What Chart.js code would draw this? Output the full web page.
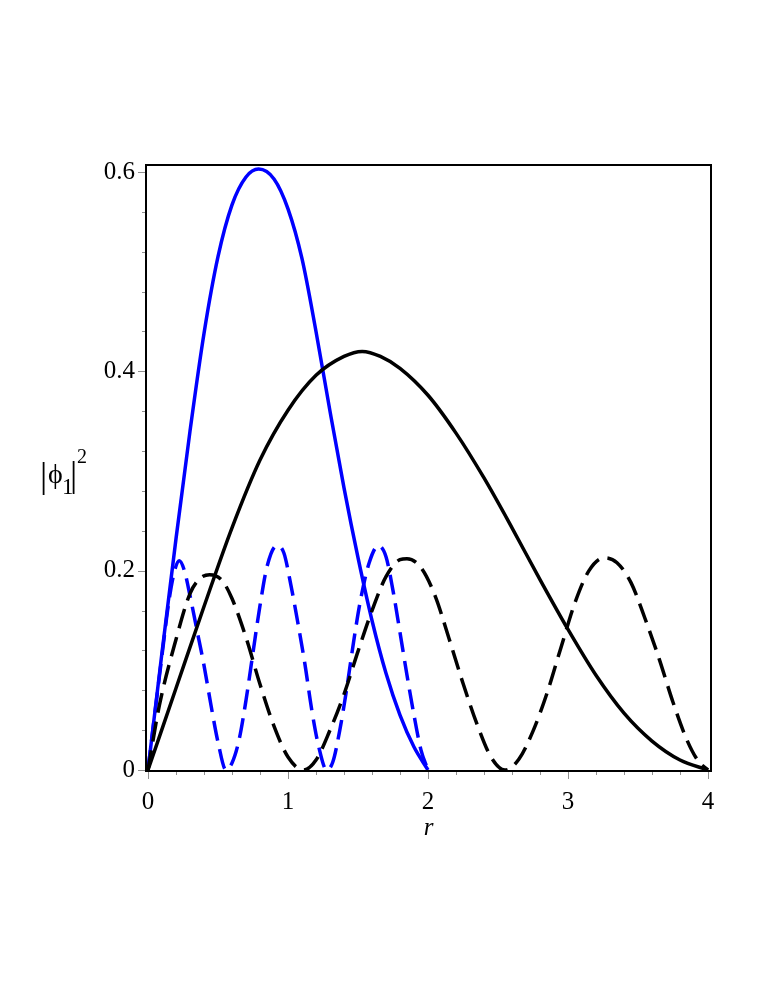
<!DOCTYPE html>
<html>
<head>
<meta charset="utf-8">
<script src="https://cdn.jsdelivr.net/npm/chart.js@4"></script>
<style>
    html, body { margin: 0; padding: 0; background: #fff; }
</style>
</head>
<body>
<canvas id="phiChart" width="772" height="999"></canvas>
<script>
/* values */

// blue solid
const blueSolidR = [0, 0.1, 0.2, 0.3, 0.4, 0.5, 0.6, 0.7, 0.79, 0.9, 1.0, 1.1, 1.2, 1.3, 1.4, 1.5, 1.6, 1.7, 1.8, 1.9, 2.0];
const blueSolidV = [0, 0.118, 0.232, 0.34, 0.438, 0.515, 0.567, 0.595, 0.603, 0.593, 0.563, 0.513, 0.44, 0.36, 0.283, 0.213, 0.15, 0.097, 0.055, 0.023, 0];

// black solid
const blackSolidR = [0, 0.2, 0.4, 0.6, 0.8, 1.0, 1.2, 1.4, 1.53, 1.66, 1.8, 2.0, 2.2, 2.4, 2.6, 2.8, 3.0, 3.2, 3.4, 3.6, 3.8, 4.0];
const blackSolidV = [0, 0.082, 0.164, 0.243, 0.311, 0.361, 0.396, 0.415, 0.42, 0.415, 0.403, 0.376, 0.338, 0.293, 0.243, 0.191, 0.141, 0.095, 0.057, 0.029, 0.01, 0];

// blue dashed
const blueDashR = [0, 0.05, 0.1, 0.15, 0.19, 0.224, 0.26, 0.3, 0.35, 0.4, 0.45, 0.5, 0.557, 0.6, 0.65, 0.7, 0.75, 0.8, 0.85, 0.919, 0.97, 1.02, 1.07, 1.12, 1.17, 1.22, 1.276, 1.32, 1.37, 1.42, 1.47, 1.52, 1.58, 1.645, 1.7, 1.75, 1.8, 1.85, 1.9, 1.95, 2.0];
const blueDashV = [0, 0.058, 0.115, 0.17, 0.2, 0.21, 0.2, 0.175, 0.14, 0.105, 0.065, 0.028, 0, 0.007, 0.03, 0.07, 0.118, 0.165, 0.204, 0.225, 0.218, 0.186, 0.148, 0.107, 0.06, 0.023, 0, 0.008, 0.04, 0.082, 0.13, 0.172, 0.208, 0.225, 0.214, 0.18, 0.138, 0.095, 0.055, 0.02, 0];

// black dashed
const blackDashR = [0, 0.08, 0.2, 0.3, 0.37, 0.44, 0.53, 0.6, 0.7, 0.8, 0.9, 1.0, 1.11, 1.2, 1.3, 1.4, 1.5, 1.6, 1.7, 1.8, 1.85, 1.95, 2.05, 2.15, 2.25, 2.35, 2.45, 2.55, 2.65, 2.75, 2.85, 2.95, 3.05, 3.15, 3.26, 3.35, 3.45, 3.55, 3.65, 3.75, 3.85, 3.93, 4.0];
const blackDashV = [0, 0.064, 0.131, 0.177, 0.192, 0.196, 0.19, 0.172, 0.133, 0.086, 0.044, 0.013, 0, 0.01, 0.04, 0.076, 0.119, 0.16, 0.194, 0.211, 0.212, 0.203, 0.175, 0.132, 0.087, 0.046, 0.013, 0, 0.011, 0.039, 0.077, 0.123, 0.168, 0.2, 0.213, 0.208, 0.188, 0.152, 0.112, 0.068, 0.03, 0.009, 0];

// axes
const xMajor = [0, 1, 2, 3, 4];
const xLabels = ['0', '1', '2', '3', '4'];
const xMinor = [0, 0.2, 0.4, 0.6, 0.8, 1, 1.2, 1.4, 1.6, 1.8, 2, 2.2, 2.4, 2.6, 2.8, 3, 3.2, 3.4, 3.6, 3.8, 4];
const yMajor = [0, 0.2, 0.4, 0.6];
const yLabels = ['0', '0.2', '0.4', '0.6'];
const yMinor = [0, 0.04, 0.08, 0.12, 0.16, 0.2, 0.24, 0.28, 0.32, 0.36, 0.4, 0.44, 0.48, 0.52, 0.56, 0.6];

const serif = '"Liberation Serif", "Times New Roman", serif';

function toPoints(rs, vs) {
    return rs.map((r, i) => ({ x: r, y: vs[i] }));
}

function isMajor(v, majors) {
    return majors.some(m => Math.abs(m - v) < 1e-6);
}

// box, tick marks and the |phi_1|^2 label
const framePlugin = {
    id: 'frame',
    afterDraw(chart) {
        const ctx = chart.ctx;
        const a = chart.chartArea;
        const xs = chart.scales.x;
        const ys = chart.scales.y;
        ctx.save();

        ctx.strokeStyle = '#909090';
        ctx.lineWidth = 1;
        xMinor.forEach(v => {
            const px = Math.round(xs.getPixelForValue(v)) + 0.5;
            const len = isMajor(v, xMajor) ? 8 : 4;
            ctx.beginPath();
            ctx.moveTo(px, a.bottom);
            ctx.lineTo(px, a.bottom + len);
            ctx.stroke();
        });
        yMinor.forEach(v => {
            const py = Math.round(ys.getPixelForValue(v)) + 0.5;
            const len = isMajor(v, yMajor) ? 8 : 4;
            ctx.beginPath();
            ctx.moveTo(a.left, py);
            ctx.lineTo(a.left - len, py);
            ctx.stroke();
        });

        ctx.strokeStyle = '#000';
        ctx.lineWidth = 2;
        ctx.strokeRect(a.left, a.top, a.right - a.left, a.bottom - a.top);

        // y title
        ctx.fillStyle = '#000';
        ctx.textBaseline = 'alphabetic';
        ctx.textAlign = 'left';
        ctx.font = '36px ' + serif;
        ctx.fillText('|', 40, 487);
        ctx.fillText('|', 70, 486);
        ctx.font = '28px ' + serif;
        ctx.fillText('\u03D5', 48, 483);
        ctx.font = '23px ' + serif;
        ctx.fillText('1', 62, 494);
        ctx.font = '20px ' + serif;
        ctx.fillText('2', 77, 463);
        ctx.restore();
    }
};

const lineBase = {
    pointRadius: 0,
    borderWidth: 3.5,
    fill: false,
    cubicInterpolationMode: 'monotone'
};

new Chart(document.getElementById('phiChart').getContext('2d'), {
    type: 'line',
    data: {
        datasets: [
            Object.assign({ data: toPoints(blackSolidR, blackSolidV), borderColor: '#000000' }, lineBase),
            Object.assign({ data: toPoints(blackDashR, blackDashV), borderColor: '#000000', borderDash: [20, 9] }, lineBase),
            Object.assign({ data: toPoints(blueDashR, blueDashV), borderColor: '#0000ff', borderDash: [20, 9] }, lineBase),
            Object.assign({ data: toPoints(blueSolidR, blueSolidV), borderColor: '#0000ff' }, lineBase)
        ]
    },
    options: {
        responsive: false,
        animation: false,
        layout: { padding: { left: 0, right: 61, top: 165, bottom: 148 } },
        plugins: { legend: { display: false }, tooltip: { enabled: false } },
        scales: {
            x: {
                type: 'linear',
                min: -0.0143,
                max: 4.0214,
                grid: { display: false, drawTicks: false },
                border: { display: false },
                afterBuildTicks: s => { s.ticks = xMajor.map(v => ({ value: v })); },
                afterFit: s => { s.height = 80; },
                ticks: {
                    padding: 16,
                    color: '#000',
                    maxRotation: 0,
                    autoSkip: false,
                    font: { family: serif, size: 25 },
                    callback: v => xLabels[xMajor.findIndex(m => Math.abs(m - v) < 1e-6)]
                },
                title: {
                    display: true,
                    text: 'r',
                    color: '#000',
                    padding: { top: 0, bottom: 8 },
                    font: { family: serif, size: 25, style: 'italic' }
                }
            },
            y: {
                type: 'linear',
                min: -0.001,
                max: 0.607,
                grid: { display: false, drawTicks: false },
                border: { display: false },
                afterBuildTicks: s => { s.ticks = yMajor.map(v => ({ value: v })); },
                afterFit: s => { s.width = 146; },
                ticks: {
                    padding: 11,
                    color: '#000',
                    autoSkip: false,
                    font: { family: serif, size: 25 },
                    callback: v => yLabels[yMajor.findIndex(m => Math.abs(m - v) < 1e-6)]
                }
            }
        }
    },
    plugins: [framePlugin]
});
</script>
</body>
</html>
